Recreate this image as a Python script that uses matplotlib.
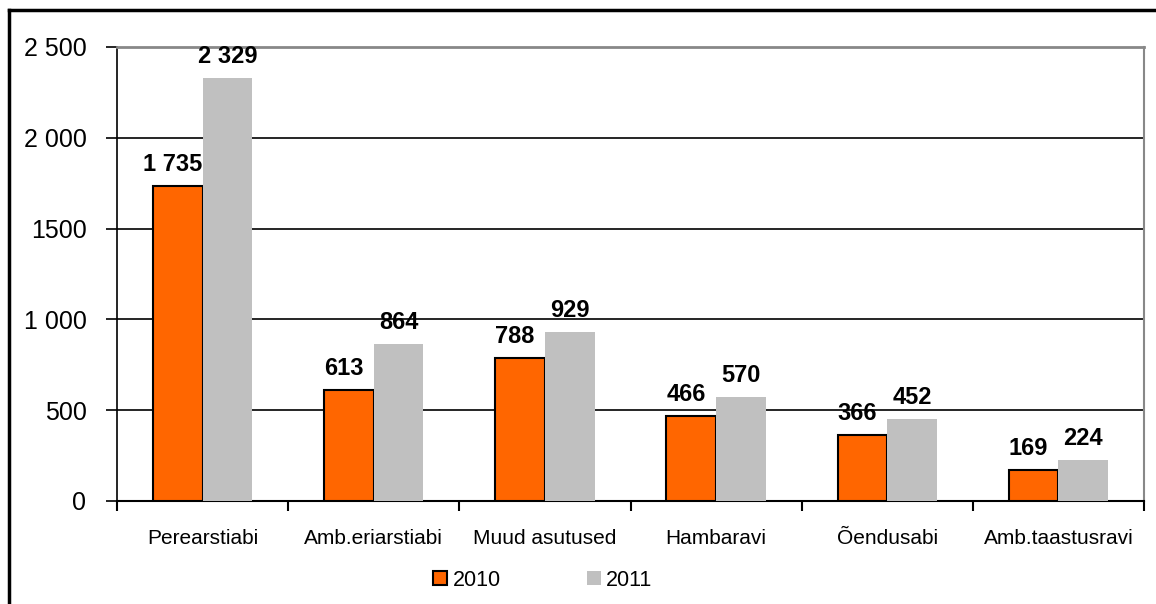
import numpy as np
import matplotlib
matplotlib.use("Agg")
import matplotlib.pyplot as plt
from matplotlib.lines import Line2D
from matplotlib.patches import Patch

categories = ["Perearstiabi", "Amb.eriarstiabi", "Muud asutused", "Hambaravi", "Õendusabi", "Amb.taastusravi"]
v2010 = [1735, 613, 788, 466, 366, 169]
v2011 = [2329, 864, 929, 570, 452, 224]
lab2010 = ["1 735", "613", "788", "466", "366", "169"]
lab2011 = ["2 329", "864", "929", "570", "452", "224"]
yticks = [0, 500, 1000, 1500, 2000, 2500]
ytick_labels = ["0", "500", "1 000", "1500", "2 000", "2 500"]

plt.rcParams['font.family'] = ['Liberation Sans', 'DejaVu Sans']

W, H = 1156, 604
fig = plt.figure(figsize=(W / 100, H / 100), dpi=100)
ax = fig.add_axes([117 / W, 1 - 501 / H, 1027 / W, 454 / H])

x = np.arange(len(categories))
bw = 0.29
ax.bar(x - bw / 2, v2010, bw, color="#FF6600", edgecolor="black", linewidth=1.5, zorder=3)
ax.bar(x + bw / 2, v2011, bw, color="#C0C0C0", linewidth=0, zorder=3)

for i in range(len(categories)):
    ax.text(x[i] - bw / 2 - 0.03, v2010[i] + 55, lab2010[i], ha="center", va="bottom",
            fontsize=17, fontweight="bold")
    ax.text(x[i] + bw / 2, v2011[i] + 55, lab2011[i], ha="center", va="bottom",
            fontsize=17, fontweight="bold")

ax.set_xlim(-0.5, len(categories) - 0.5)
ax.set_ylim(0, 2500)
ax.set_yticks(yticks)
ax.set_yticklabels(ytick_labels, fontsize=18)
ax.yaxis.grid(True, color="black", linewidth=1.2, zorder=0)
ax.set_axisbelow(True)

# category labels between boundary ticks
ax.set_xticks(x)
ax.set_xticklabels(categories, fontsize=15)
ax.tick_params(axis="x", length=0, pad=20)
ax.set_xticks(np.arange(len(categories) + 1) - 0.5, minor=True)
ax.tick_params(axis="x", which="minor", length=7, width=1.5, color="black")
ax.tick_params(axis="y", length=8, width=1.2, pad=14)

ax.spines["top"].set_color("#888888")
ax.spines["top"].set_linewidth(2)
ax.spines["right"].set_color("#888888")
ax.spines["right"].set_linewidth(1.5)
ax.spines["left"].set_linewidth(1.2)
ax.spines["bottom"].set_linewidth(1.5)

# outer frame
fig.add_artist(Line2D([9 / W, 9 / W], [0, 1 - 10 / H], color="black", linewidth=2.5, transform=fig.transFigure))
fig.add_artist(Line2D([9 / W, 1], [1 - 10 / H, 1 - 10 / H], color="black", linewidth=2.5, transform=fig.transFigure))

handles = [Patch(facecolor="#FF6600", edgecolor="black", linewidth=1.5),
           Patch(facecolor="#C0C0C0", edgecolor="none")]
fig.legend(handles, ["2010", "2011"], loc="center", bbox_to_anchor=(543 / W, 1 - 580 / H),
           ncol=2, frameon=False, fontsize=15.5, handlelength=0.65, handleheight=0.65,
           handletextpad=0.25, columnspacing=4.0)

fig.savefig("out.png", dpi=100)
